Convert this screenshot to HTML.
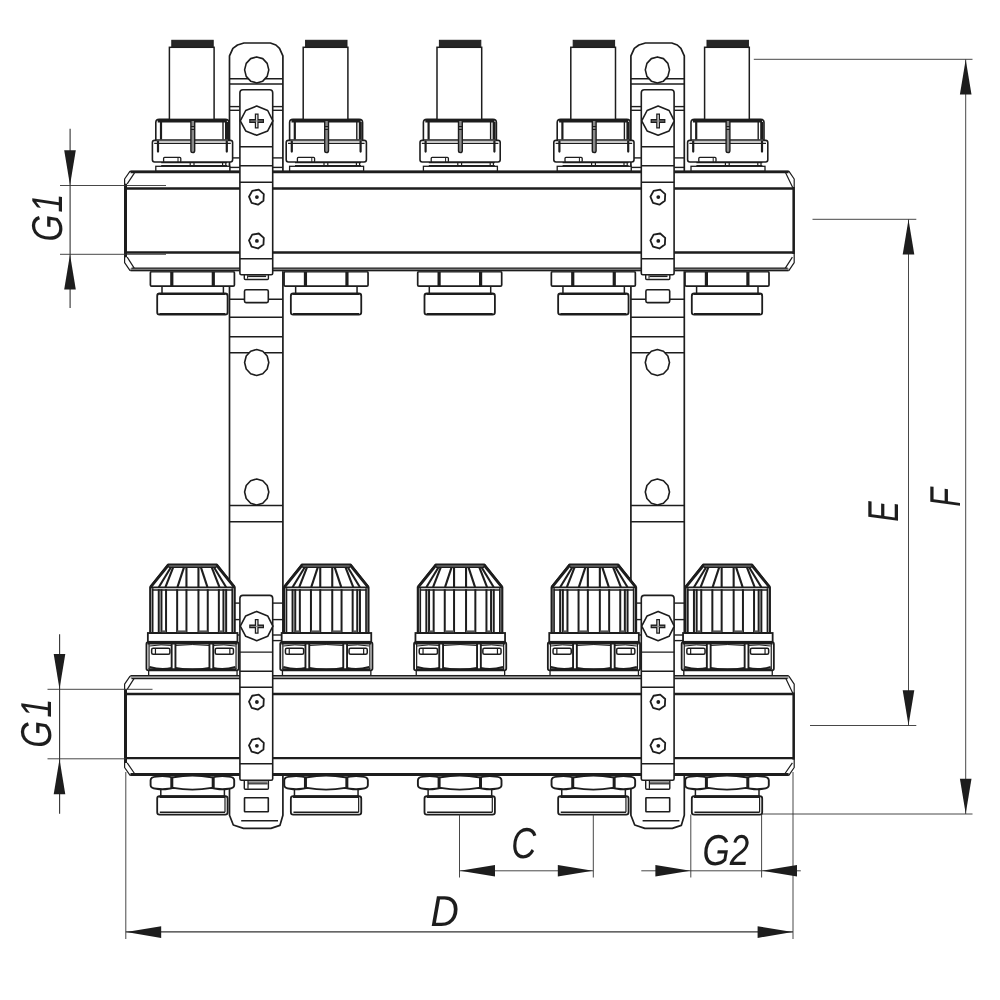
<!DOCTYPE html>
<html lang="en">
<head>
<meta charset="utf-8">
<title>Manifold dimensions</title>
<style>
html,body{margin:0;padding:0;background:#fff;}
body{width:1000px;height:1000px;overflow:hidden;}
svg{display:block;will-change:transform;filter:grayscale(1);}
.t{font-family:"Liberation Sans","DejaVu Sans",sans-serif;font-style:italic;fill:#1d1d1b;text-rendering:geometricPrecision;}
</style>
</head>
<body>
<svg width="1000" height="1000" viewBox="0 0 1000 1000">
<rect x="0" y="0" width="1000" height="1000" fill="#fff"/>
<g transform="translate(256.60,0.00)">
<path d="M-27.1,171 V55.9 L-23.700000000000003,48.4 L-19.1,45 L-12.600000000000001,43 H13.8 L19.3,45 L22.900000000000002,48.4 L26.3,55.9 V171" fill="#fff" stroke="#1d1d1b" stroke-width="1.7" stroke-linejoin="round" />
<path d="M-27.1,270 V815.2 L-23.3,825 L-13.100000000000001,828.4 H14.3 L23.3,825.4 L26.3,815.2 V270" fill="#fff" stroke="#1d1d1b" stroke-width="1.7" stroke-linejoin="round" />
<line x1="-27.10" y1="78.80" x2="26.30" y2="78.80" stroke="#1d1d1b" stroke-width="1.5" />
<line x1="-27.10" y1="83.90" x2="26.30" y2="83.90" stroke="#1d1d1b" stroke-width="1.5" />
<polygon points="0.10,56.90 6.15,58.64 10.58,63.40 12.20,69.90 10.58,76.40 6.15,81.16 0.10,82.90 -5.95,81.16 -10.38,76.40 -12.00,69.90 -10.38,63.40 -5.95,58.64" fill="#fff" stroke="#1d1d1b" stroke-width="1.6" stroke-linejoin="round"/>
<line x1="-27.10" y1="106.60" x2="-16.80" y2="106.60" stroke="#1d1d1b" stroke-width="1.4" />
<line x1="16.20" y1="106.60" x2="26.30" y2="106.60" stroke="#1d1d1b" stroke-width="1.4" />
<line x1="-27.10" y1="110.30" x2="-16.80" y2="110.30" stroke="#1d1d1b" stroke-width="1.4" />
<line x1="16.20" y1="110.30" x2="26.30" y2="110.30" stroke="#1d1d1b" stroke-width="1.4" />
<line x1="-27.10" y1="157.90" x2="-16.80" y2="157.90" stroke="#1d1d1b" stroke-width="1.4" />
<line x1="16.20" y1="157.90" x2="26.30" y2="157.90" stroke="#1d1d1b" stroke-width="1.4" />
<line x1="-27.10" y1="167.40" x2="-16.80" y2="167.40" stroke="#1d1d1b" stroke-width="1.4" />
<line x1="16.20" y1="167.40" x2="26.30" y2="167.40" stroke="#1d1d1b" stroke-width="1.4" />
<line x1="-27.10" y1="299.20" x2="26.30" y2="299.20" stroke="#1d1d1b" stroke-width="1.5" />
<line x1="-27.10" y1="317.20" x2="26.30" y2="317.20" stroke="#1d1d1b" stroke-width="1.5" />
<line x1="-27.10" y1="336.70" x2="26.30" y2="336.70" stroke="#1d1d1b" stroke-width="1.5" />
<line x1="-27.10" y1="352.80" x2="26.30" y2="352.80" stroke="#1d1d1b" stroke-width="1.5" />
<line x1="-27.10" y1="505.50" x2="26.30" y2="505.50" stroke="#1d1d1b" stroke-width="1.5" />
<line x1="-27.10" y1="521.80" x2="26.30" y2="521.80" stroke="#1d1d1b" stroke-width="1.5" />
<polygon points="0.10,349.50 6.15,351.24 10.58,356.00 12.20,362.50 10.58,369.00 6.15,373.76 0.10,375.50 -5.95,373.76 -10.38,369.00 -12.00,362.50 -10.38,356.00 -5.95,351.24" fill="#fff" stroke="#1d1d1b" stroke-width="1.6" stroke-linejoin="round"/>
<polygon points="0.10,479.00 6.15,480.74 10.58,485.50 12.20,492.00 10.58,498.50 6.15,503.26 0.10,505.00 -5.95,503.26 -10.38,498.50 -12.00,492.00 -10.38,485.50 -5.95,480.74" fill="#fff" stroke="#1d1d1b" stroke-width="1.6" stroke-linejoin="round"/>
<rect x="-12.10" y="289.80" width="23.80" height="12.80" rx="1.5" fill="#fff" stroke="#1d1d1b" stroke-width="1.6"/>
<line x1="16.20" y1="603.10" x2="26.30" y2="603.10" stroke="#1d1d1b" stroke-width="1.4" />
<line x1="16.20" y1="619.60" x2="26.30" y2="619.60" stroke="#1d1d1b" stroke-width="1.4" />
<line x1="16.20" y1="635.00" x2="26.30" y2="635.00" stroke="#1d1d1b" stroke-width="1.4" />
<line x1="16.20" y1="640.60" x2="26.30" y2="640.60" stroke="#1d1d1b" stroke-width="1.4" />
<line x1="-27.10" y1="603.10" x2="-16.80" y2="603.10" stroke="#1d1d1b" stroke-width="1.4" />
<line x1="-27.10" y1="619.60" x2="-16.80" y2="619.60" stroke="#1d1d1b" stroke-width="1.4" />
<line x1="-27.10" y1="635.00" x2="-16.80" y2="635.00" stroke="#1d1d1b" stroke-width="1.4" />
<line x1="-15.40" y1="820.80" x2="21.40" y2="820.80" stroke="#1d1d1b" stroke-width="1.4" />
<rect x="-12.10" y="797.80" width="23.80" height="14.00" rx="0.5" fill="#fff" stroke="#1d1d1b" stroke-width="1.6"/>
</g>
<g transform="translate(658.00,0.00)">
<path d="M-27.1,171 V55.9 L-23.700000000000003,48.4 L-19.1,45 L-12.600000000000001,43 H13.8 L19.3,45 L22.900000000000002,48.4 L26.3,55.9 V171" fill="#fff" stroke="#1d1d1b" stroke-width="1.7" stroke-linejoin="round" />
<path d="M-27.1,270 V815.2 L-23.3,825 L-13.100000000000001,828.4 H14.3 L23.3,825.4 L26.3,815.2 V270" fill="#fff" stroke="#1d1d1b" stroke-width="1.7" stroke-linejoin="round" />
<line x1="-27.10" y1="78.80" x2="26.30" y2="78.80" stroke="#1d1d1b" stroke-width="1.5" />
<line x1="-27.10" y1="83.90" x2="26.30" y2="83.90" stroke="#1d1d1b" stroke-width="1.5" />
<polygon points="-0.60,56.90 5.45,58.64 9.88,63.40 11.50,69.90 9.88,76.40 5.45,81.16 -0.60,82.90 -6.65,81.16 -11.08,76.40 -12.70,69.90 -11.08,63.40 -6.65,58.64" fill="#fff" stroke="#1d1d1b" stroke-width="1.6" stroke-linejoin="round"/>
<line x1="-27.10" y1="106.60" x2="-16.80" y2="106.60" stroke="#1d1d1b" stroke-width="1.4" />
<line x1="16.20" y1="106.60" x2="26.30" y2="106.60" stroke="#1d1d1b" stroke-width="1.4" />
<line x1="-27.10" y1="110.30" x2="-16.80" y2="110.30" stroke="#1d1d1b" stroke-width="1.4" />
<line x1="16.20" y1="110.30" x2="26.30" y2="110.30" stroke="#1d1d1b" stroke-width="1.4" />
<line x1="-27.10" y1="157.90" x2="-16.80" y2="157.90" stroke="#1d1d1b" stroke-width="1.4" />
<line x1="16.20" y1="157.90" x2="26.30" y2="157.90" stroke="#1d1d1b" stroke-width="1.4" />
<line x1="-27.10" y1="167.40" x2="-16.80" y2="167.40" stroke="#1d1d1b" stroke-width="1.4" />
<line x1="16.20" y1="167.40" x2="26.30" y2="167.40" stroke="#1d1d1b" stroke-width="1.4" />
<line x1="-27.10" y1="299.20" x2="26.30" y2="299.20" stroke="#1d1d1b" stroke-width="1.5" />
<line x1="-27.10" y1="317.20" x2="26.30" y2="317.20" stroke="#1d1d1b" stroke-width="1.5" />
<line x1="-27.10" y1="336.70" x2="26.30" y2="336.70" stroke="#1d1d1b" stroke-width="1.5" />
<line x1="-27.10" y1="352.80" x2="26.30" y2="352.80" stroke="#1d1d1b" stroke-width="1.5" />
<line x1="-27.10" y1="505.50" x2="26.30" y2="505.50" stroke="#1d1d1b" stroke-width="1.5" />
<line x1="-27.10" y1="521.80" x2="26.30" y2="521.80" stroke="#1d1d1b" stroke-width="1.5" />
<polygon points="-0.60,349.50 5.45,351.24 9.88,356.00 11.50,362.50 9.88,369.00 5.45,373.76 -0.60,375.50 -6.65,373.76 -11.08,369.00 -12.70,362.50 -11.08,356.00 -6.65,351.24" fill="#fff" stroke="#1d1d1b" stroke-width="1.6" stroke-linejoin="round"/>
<polygon points="-0.60,479.00 5.45,480.74 9.88,485.50 11.50,492.00 9.88,498.50 5.45,503.26 -0.60,505.00 -6.65,503.26 -11.08,498.50 -12.70,492.00 -11.08,485.50 -6.65,480.74" fill="#fff" stroke="#1d1d1b" stroke-width="1.6" stroke-linejoin="round"/>
<rect x="-12.10" y="289.80" width="23.80" height="12.80" rx="1.5" fill="#fff" stroke="#1d1d1b" stroke-width="1.6"/>
<line x1="16.20" y1="603.10" x2="26.30" y2="603.10" stroke="#1d1d1b" stroke-width="1.4" />
<line x1="16.20" y1="619.60" x2="26.30" y2="619.60" stroke="#1d1d1b" stroke-width="1.4" />
<line x1="16.20" y1="635.00" x2="26.30" y2="635.00" stroke="#1d1d1b" stroke-width="1.4" />
<line x1="16.20" y1="640.60" x2="26.30" y2="640.60" stroke="#1d1d1b" stroke-width="1.4" />
<line x1="-27.10" y1="603.10" x2="-16.80" y2="603.10" stroke="#1d1d1b" stroke-width="1.4" />
<line x1="-27.10" y1="619.60" x2="-16.80" y2="619.60" stroke="#1d1d1b" stroke-width="1.4" />
<line x1="-27.10" y1="635.00" x2="-16.80" y2="635.00" stroke="#1d1d1b" stroke-width="1.4" />
<line x1="-15.40" y1="820.80" x2="21.40" y2="820.80" stroke="#1d1d1b" stroke-width="1.4" />
<rect x="-12.10" y="797.80" width="23.80" height="14.00" rx="0.5" fill="#fff" stroke="#1d1d1b" stroke-width="1.6"/>
</g>
<g transform="translate(192.20,0.00)">
<rect x="-36.40" y="166.30" width="74.00" height="5.10" rx="0" fill="#fff" stroke="#1d1d1b" stroke-width="1.3"/>
<line x1="-31.00" y1="162.60" x2="35.00" y2="162.60" stroke="#1d1d1b" stroke-width="1.2" />
<line x1="-31.00" y1="165.70" x2="35.00" y2="165.70" stroke="#1d1d1b" stroke-width="1.2" />
<line x1="-2.00" y1="162.00" x2="-2.00" y2="166.00" stroke="#1d1d1b" stroke-width="1.2" />
<line x1="1.80" y1="162.00" x2="1.80" y2="166.00" stroke="#1d1d1b" stroke-width="1.2" />
<line x1="30.40" y1="162.00" x2="30.40" y2="166.00" stroke="#1d1d1b" stroke-width="1.2" />
<line x1="33.60" y1="162.00" x2="33.60" y2="166.00" stroke="#1d1d1b" stroke-width="1.2" />
<rect x="-39.80" y="140.40" width="80.20" height="21.60" rx="2.2" fill="#fff" stroke="#1d1d1b" stroke-width="1.6"/>
<rect x="-28.60" y="157.40" width="17.20" height="4.60" rx="1" fill="#fff" stroke="#1d1d1b" stroke-width="1.3"/>
<line x1="-14.20" y1="158.00" x2="-14.20" y2="162.00" stroke="#1d1d1b" stroke-width="1.0" />
<path d="M-36.4,141 V122.5 Q-36.4,119.4 -33,119.4 H33.2 Q36.6,119.4 36.6,122.5 V141" fill="#fff" stroke="#1d1d1b" stroke-width="1.6" stroke-linejoin="round" />
<line x1="-34.50" y1="120.90" x2="34.70" y2="120.90" stroke="#1d1d1b" stroke-width="3.0" />
<line x1="-36.40" y1="139.90" x2="36.60" y2="139.90" stroke="#1d1d1b" stroke-width="1.5" />
<line x1="-38.00" y1="143.40" x2="38.60" y2="143.40" stroke="#1d1d1b" stroke-width="1.4" />
<line x1="-31.20" y1="122.00" x2="-31.20" y2="139.50" stroke="#1d1d1b" stroke-width="2.2" />
<line x1="30.80" y1="122.00" x2="30.80" y2="139.50" stroke="#1d1d1b" stroke-width="1.4" />
<line x1="34.30" y1="122.00" x2="34.30" y2="139.50" stroke="#1d1d1b" stroke-width="3.0" />
<path d="M-1.3,121 V150.8 Q-1.3,152.6 0.6,152.6 Q2.5,152.6 2.5,150.8 V121" fill="#8a8a8a" stroke="#1d1d1b" stroke-width="1.4" stroke-linejoin="round" />
<line x1="-1.30" y1="126.50" x2="2.50" y2="126.50" stroke="#1d1d1b" stroke-width="1.0" />
<line x1="-1.30" y1="129.50" x2="2.50" y2="129.50" stroke="#1d1d1b" stroke-width="1.0" />
<line x1="-34.2" y1="141.5" x2="-34.2" y2="151.6" stroke="#1d1d1b" stroke-width="2.2" stroke-linecap="round"/>
<line x1="34.6" y1="141.5" x2="34.6" y2="151.6" stroke="#1d1d1b" stroke-width="2.2" stroke-linecap="round"/>
<rect x="-22.80" y="47.30" width="44.70" height="72.10" rx="0" fill="#fff" stroke="#1d1d1b" stroke-width="1.5"/>
<rect x="-20.40" y="40.30" width="41.40" height="7.00" rx="0" fill="#262626" stroke="#1d1d1b" stroke-width="1.0"/>
</g>
<g transform="translate(326.00,0.00)">
<rect x="-36.40" y="166.30" width="74.00" height="5.10" rx="0" fill="#fff" stroke="#1d1d1b" stroke-width="1.3"/>
<line x1="-31.00" y1="162.60" x2="35.00" y2="162.60" stroke="#1d1d1b" stroke-width="1.2" />
<line x1="-31.00" y1="165.70" x2="35.00" y2="165.70" stroke="#1d1d1b" stroke-width="1.2" />
<line x1="-2.00" y1="162.00" x2="-2.00" y2="166.00" stroke="#1d1d1b" stroke-width="1.2" />
<line x1="1.80" y1="162.00" x2="1.80" y2="166.00" stroke="#1d1d1b" stroke-width="1.2" />
<line x1="30.40" y1="162.00" x2="30.40" y2="166.00" stroke="#1d1d1b" stroke-width="1.2" />
<line x1="33.60" y1="162.00" x2="33.60" y2="166.00" stroke="#1d1d1b" stroke-width="1.2" />
<rect x="-39.80" y="140.40" width="80.20" height="21.60" rx="2.2" fill="#fff" stroke="#1d1d1b" stroke-width="1.6"/>
<rect x="-28.60" y="157.40" width="17.20" height="4.60" rx="1" fill="#fff" stroke="#1d1d1b" stroke-width="1.3"/>
<line x1="-14.20" y1="158.00" x2="-14.20" y2="162.00" stroke="#1d1d1b" stroke-width="1.0" />
<path d="M-36.4,141 V122.5 Q-36.4,119.4 -33,119.4 H33.2 Q36.6,119.4 36.6,122.5 V141" fill="#fff" stroke="#1d1d1b" stroke-width="1.6" stroke-linejoin="round" />
<line x1="-34.50" y1="120.90" x2="34.70" y2="120.90" stroke="#1d1d1b" stroke-width="3.0" />
<line x1="-36.40" y1="139.90" x2="36.60" y2="139.90" stroke="#1d1d1b" stroke-width="1.5" />
<line x1="-38.00" y1="143.40" x2="38.60" y2="143.40" stroke="#1d1d1b" stroke-width="1.4" />
<line x1="-31.20" y1="122.00" x2="-31.20" y2="139.50" stroke="#1d1d1b" stroke-width="2.2" />
<line x1="30.80" y1="122.00" x2="30.80" y2="139.50" stroke="#1d1d1b" stroke-width="1.4" />
<line x1="34.30" y1="122.00" x2="34.30" y2="139.50" stroke="#1d1d1b" stroke-width="3.0" />
<path d="M-1.3,121 V150.8 Q-1.3,152.6 0.6,152.6 Q2.5,152.6 2.5,150.8 V121" fill="#8a8a8a" stroke="#1d1d1b" stroke-width="1.4" stroke-linejoin="round" />
<line x1="-1.30" y1="126.50" x2="2.50" y2="126.50" stroke="#1d1d1b" stroke-width="1.0" />
<line x1="-1.30" y1="129.50" x2="2.50" y2="129.50" stroke="#1d1d1b" stroke-width="1.0" />
<line x1="-34.2" y1="141.5" x2="-34.2" y2="151.6" stroke="#1d1d1b" stroke-width="2.2" stroke-linecap="round"/>
<line x1="34.6" y1="141.5" x2="34.6" y2="151.6" stroke="#1d1d1b" stroke-width="2.2" stroke-linecap="round"/>
<rect x="-22.80" y="47.30" width="44.70" height="72.10" rx="0" fill="#fff" stroke="#1d1d1b" stroke-width="1.5"/>
<rect x="-20.40" y="40.30" width="41.40" height="7.00" rx="0" fill="#262626" stroke="#1d1d1b" stroke-width="1.0"/>
</g>
<g transform="translate(459.80,0.00)">
<rect x="-36.40" y="166.30" width="74.00" height="5.10" rx="0" fill="#fff" stroke="#1d1d1b" stroke-width="1.3"/>
<line x1="-31.00" y1="162.60" x2="35.00" y2="162.60" stroke="#1d1d1b" stroke-width="1.2" />
<line x1="-31.00" y1="165.70" x2="35.00" y2="165.70" stroke="#1d1d1b" stroke-width="1.2" />
<line x1="-2.00" y1="162.00" x2="-2.00" y2="166.00" stroke="#1d1d1b" stroke-width="1.2" />
<line x1="1.80" y1="162.00" x2="1.80" y2="166.00" stroke="#1d1d1b" stroke-width="1.2" />
<line x1="30.40" y1="162.00" x2="30.40" y2="166.00" stroke="#1d1d1b" stroke-width="1.2" />
<line x1="33.60" y1="162.00" x2="33.60" y2="166.00" stroke="#1d1d1b" stroke-width="1.2" />
<rect x="-39.80" y="140.40" width="80.20" height="21.60" rx="2.2" fill="#fff" stroke="#1d1d1b" stroke-width="1.6"/>
<rect x="-28.60" y="157.40" width="17.20" height="4.60" rx="1" fill="#fff" stroke="#1d1d1b" stroke-width="1.3"/>
<line x1="-14.20" y1="158.00" x2="-14.20" y2="162.00" stroke="#1d1d1b" stroke-width="1.0" />
<path d="M-36.4,141 V122.5 Q-36.4,119.4 -33,119.4 H33.2 Q36.6,119.4 36.6,122.5 V141" fill="#fff" stroke="#1d1d1b" stroke-width="1.6" stroke-linejoin="round" />
<line x1="-34.50" y1="120.90" x2="34.70" y2="120.90" stroke="#1d1d1b" stroke-width="3.0" />
<line x1="-36.40" y1="139.90" x2="36.60" y2="139.90" stroke="#1d1d1b" stroke-width="1.5" />
<line x1="-38.00" y1="143.40" x2="38.60" y2="143.40" stroke="#1d1d1b" stroke-width="1.4" />
<line x1="-31.20" y1="122.00" x2="-31.20" y2="139.50" stroke="#1d1d1b" stroke-width="2.2" />
<line x1="30.80" y1="122.00" x2="30.80" y2="139.50" stroke="#1d1d1b" stroke-width="1.4" />
<line x1="34.30" y1="122.00" x2="34.30" y2="139.50" stroke="#1d1d1b" stroke-width="3.0" />
<path d="M-1.3,121 V150.8 Q-1.3,152.6 0.6,152.6 Q2.5,152.6 2.5,150.8 V121" fill="#8a8a8a" stroke="#1d1d1b" stroke-width="1.4" stroke-linejoin="round" />
<line x1="-1.30" y1="126.50" x2="2.50" y2="126.50" stroke="#1d1d1b" stroke-width="1.0" />
<line x1="-1.30" y1="129.50" x2="2.50" y2="129.50" stroke="#1d1d1b" stroke-width="1.0" />
<line x1="-34.2" y1="141.5" x2="-34.2" y2="151.6" stroke="#1d1d1b" stroke-width="2.2" stroke-linecap="round"/>
<line x1="34.6" y1="141.5" x2="34.6" y2="151.6" stroke="#1d1d1b" stroke-width="2.2" stroke-linecap="round"/>
<rect x="-22.80" y="47.30" width="44.70" height="72.10" rx="0" fill="#fff" stroke="#1d1d1b" stroke-width="1.5"/>
<rect x="-20.40" y="40.30" width="41.40" height="7.00" rx="0" fill="#262626" stroke="#1d1d1b" stroke-width="1.0"/>
</g>
<g transform="translate(593.60,0.00)">
<rect x="-36.40" y="166.30" width="74.00" height="5.10" rx="0" fill="#fff" stroke="#1d1d1b" stroke-width="1.3"/>
<line x1="-31.00" y1="162.60" x2="35.00" y2="162.60" stroke="#1d1d1b" stroke-width="1.2" />
<line x1="-31.00" y1="165.70" x2="35.00" y2="165.70" stroke="#1d1d1b" stroke-width="1.2" />
<line x1="-2.00" y1="162.00" x2="-2.00" y2="166.00" stroke="#1d1d1b" stroke-width="1.2" />
<line x1="1.80" y1="162.00" x2="1.80" y2="166.00" stroke="#1d1d1b" stroke-width="1.2" />
<line x1="30.40" y1="162.00" x2="30.40" y2="166.00" stroke="#1d1d1b" stroke-width="1.2" />
<line x1="33.60" y1="162.00" x2="33.60" y2="166.00" stroke="#1d1d1b" stroke-width="1.2" />
<rect x="-39.80" y="140.40" width="80.20" height="21.60" rx="2.2" fill="#fff" stroke="#1d1d1b" stroke-width="1.6"/>
<rect x="-28.60" y="157.40" width="17.20" height="4.60" rx="1" fill="#fff" stroke="#1d1d1b" stroke-width="1.3"/>
<line x1="-14.20" y1="158.00" x2="-14.20" y2="162.00" stroke="#1d1d1b" stroke-width="1.0" />
<path d="M-36.4,141 V122.5 Q-36.4,119.4 -33,119.4 H33.2 Q36.6,119.4 36.6,122.5 V141" fill="#fff" stroke="#1d1d1b" stroke-width="1.6" stroke-linejoin="round" />
<line x1="-34.50" y1="120.90" x2="34.70" y2="120.90" stroke="#1d1d1b" stroke-width="3.0" />
<line x1="-36.40" y1="139.90" x2="36.60" y2="139.90" stroke="#1d1d1b" stroke-width="1.5" />
<line x1="-38.00" y1="143.40" x2="38.60" y2="143.40" stroke="#1d1d1b" stroke-width="1.4" />
<line x1="-31.20" y1="122.00" x2="-31.20" y2="139.50" stroke="#1d1d1b" stroke-width="2.2" />
<line x1="30.80" y1="122.00" x2="30.80" y2="139.50" stroke="#1d1d1b" stroke-width="1.4" />
<line x1="34.30" y1="122.00" x2="34.30" y2="139.50" stroke="#1d1d1b" stroke-width="3.0" />
<path d="M-1.3,121 V150.8 Q-1.3,152.6 0.6,152.6 Q2.5,152.6 2.5,150.8 V121" fill="#8a8a8a" stroke="#1d1d1b" stroke-width="1.4" stroke-linejoin="round" />
<line x1="-1.30" y1="126.50" x2="2.50" y2="126.50" stroke="#1d1d1b" stroke-width="1.0" />
<line x1="-1.30" y1="129.50" x2="2.50" y2="129.50" stroke="#1d1d1b" stroke-width="1.0" />
<line x1="-34.2" y1="141.5" x2="-34.2" y2="151.6" stroke="#1d1d1b" stroke-width="2.2" stroke-linecap="round"/>
<line x1="34.6" y1="141.5" x2="34.6" y2="151.6" stroke="#1d1d1b" stroke-width="2.2" stroke-linecap="round"/>
<rect x="-22.80" y="47.30" width="44.70" height="72.10" rx="0" fill="#fff" stroke="#1d1d1b" stroke-width="1.5"/>
<rect x="-20.40" y="40.30" width="41.40" height="7.00" rx="0" fill="#262626" stroke="#1d1d1b" stroke-width="1.0"/>
</g>
<g transform="translate(727.40,0.00)">
<rect x="-36.40" y="166.30" width="74.00" height="5.10" rx="0" fill="#fff" stroke="#1d1d1b" stroke-width="1.3"/>
<line x1="-31.00" y1="162.60" x2="35.00" y2="162.60" stroke="#1d1d1b" stroke-width="1.2" />
<line x1="-31.00" y1="165.70" x2="35.00" y2="165.70" stroke="#1d1d1b" stroke-width="1.2" />
<line x1="-2.00" y1="162.00" x2="-2.00" y2="166.00" stroke="#1d1d1b" stroke-width="1.2" />
<line x1="1.80" y1="162.00" x2="1.80" y2="166.00" stroke="#1d1d1b" stroke-width="1.2" />
<line x1="30.40" y1="162.00" x2="30.40" y2="166.00" stroke="#1d1d1b" stroke-width="1.2" />
<line x1="33.60" y1="162.00" x2="33.60" y2="166.00" stroke="#1d1d1b" stroke-width="1.2" />
<rect x="-39.80" y="140.40" width="80.20" height="21.60" rx="2.2" fill="#fff" stroke="#1d1d1b" stroke-width="1.6"/>
<rect x="-28.60" y="157.40" width="17.20" height="4.60" rx="1" fill="#fff" stroke="#1d1d1b" stroke-width="1.3"/>
<line x1="-14.20" y1="158.00" x2="-14.20" y2="162.00" stroke="#1d1d1b" stroke-width="1.0" />
<path d="M-36.4,141 V122.5 Q-36.4,119.4 -33,119.4 H33.2 Q36.6,119.4 36.6,122.5 V141" fill="#fff" stroke="#1d1d1b" stroke-width="1.6" stroke-linejoin="round" />
<line x1="-34.50" y1="120.90" x2="34.70" y2="120.90" stroke="#1d1d1b" stroke-width="3.0" />
<line x1="-36.40" y1="139.90" x2="36.60" y2="139.90" stroke="#1d1d1b" stroke-width="1.5" />
<line x1="-38.00" y1="143.40" x2="38.60" y2="143.40" stroke="#1d1d1b" stroke-width="1.4" />
<line x1="-31.20" y1="122.00" x2="-31.20" y2="139.50" stroke="#1d1d1b" stroke-width="2.2" />
<line x1="30.80" y1="122.00" x2="30.80" y2="139.50" stroke="#1d1d1b" stroke-width="1.4" />
<line x1="34.30" y1="122.00" x2="34.30" y2="139.50" stroke="#1d1d1b" stroke-width="3.0" />
<path d="M-1.3,121 V150.8 Q-1.3,152.6 0.6,152.6 Q2.5,152.6 2.5,150.8 V121" fill="#8a8a8a" stroke="#1d1d1b" stroke-width="1.4" stroke-linejoin="round" />
<line x1="-1.30" y1="126.50" x2="2.50" y2="126.50" stroke="#1d1d1b" stroke-width="1.0" />
<line x1="-1.30" y1="129.50" x2="2.50" y2="129.50" stroke="#1d1d1b" stroke-width="1.0" />
<line x1="-34.2" y1="141.5" x2="-34.2" y2="151.6" stroke="#1d1d1b" stroke-width="2.2" stroke-linecap="round"/>
<line x1="34.6" y1="141.5" x2="34.6" y2="151.6" stroke="#1d1d1b" stroke-width="2.2" stroke-linecap="round"/>
<rect x="-22.80" y="47.30" width="44.70" height="72.10" rx="0" fill="#fff" stroke="#1d1d1b" stroke-width="1.5"/>
<rect x="-20.40" y="40.30" width="41.40" height="7.00" rx="0" fill="#262626" stroke="#1d1d1b" stroke-width="1.0"/>
</g>
<g transform="translate(192.45,0.00)">
<rect x="-43.80" y="670.30" width="88.40" height="5.30" rx="0" fill="#fff" stroke="#1d1d1b" stroke-width="1.3"/>
<path d="M-46,644 Q-46,642.2 -44,642.2 H44.2 Q46.2,642.2 46.2,644 V668.5 Q46.2,670.4 44.2,670.4 H-44 Q-46,670.4 -46,668.5 Z" fill="#fff" stroke="#1d1d1b" stroke-width="1.8" stroke-linejoin="round" />
<line x1="-45.00" y1="643.40" x2="45.00" y2="643.40" stroke="#1d1d1b" stroke-width="2.2" />
<line x1="-20.80" y1="643.00" x2="-20.80" y2="670.00" stroke="#1d1d1b" stroke-width="1.9" />
<line x1="-17.00" y1="643.00" x2="-17.00" y2="670.00" stroke="#1d1d1b" stroke-width="1.9" />
<line x1="17.00" y1="643.00" x2="17.00" y2="670.00" stroke="#1d1d1b" stroke-width="1.9" />
<line x1="20.80" y1="643.00" x2="20.80" y2="670.00" stroke="#1d1d1b" stroke-width="1.9" />
<line x1="-43.40" y1="644.00" x2="-43.40" y2="669.00" stroke="#1d1d1b" stroke-width="1.2" />
<line x1="43.60" y1="644.00" x2="43.60" y2="669.00" stroke="#1d1d1b" stroke-width="1.2" />
<path d="M-43,666.8 Q-31,670.6 -20.6,667.8 M-17,667.8 Q0,671.4 17,667.8 M20.6,667.8 Q31,670.6 43,666.8" fill="none" stroke="#1d1d1b" stroke-width="1.8" stroke-linejoin="round" />
<path d="M-43,646 Q-31,644 -20.6,645.5 M-17,645.5 Q0,643.6 17,645.5 M20.6,645.5 Q31,644 43,646" fill="none" stroke="#1d1d1b" stroke-width="1.0" stroke-linejoin="round" />
<line x1="-44.00" y1="669.20" x2="44.00" y2="669.20" stroke="#1d1d1b" stroke-width="2.0" />
<rect x="-40.80" y="648.20" width="18.20" height="6.00" rx="1.5" fill="#fff" stroke="#1d1d1b" stroke-width="1.5"/>
<rect x="22.80" y="648.20" width="18.20" height="6.00" rx="1.5" fill="#fff" stroke="#1d1d1b" stroke-width="1.5"/>
<line x1="-37.00" y1="648.50" x2="-37.00" y2="654.00" stroke="#1d1d1b" stroke-width="1.2" />
<line x1="37.40" y1="648.50" x2="37.40" y2="654.00" stroke="#1d1d1b" stroke-width="1.2" />
<rect x="-44.60" y="633.00" width="89.60" height="8.80" rx="0" fill="#fff" stroke="#1d1d1b" stroke-width="1.8"/>
<path d="M-42.2,633 V587.2 L-24.4,564.6 H24.4 L42.2,587.2 V633 Z" fill="#fff" stroke="#1d1d1b" stroke-width="2.2" stroke-linejoin="round" />
<line x1="-24.00" y1="567.20" x2="24.00" y2="567.20" stroke="#1d1d1b" stroke-width="1.7" />
<line x1="-42.00" y1="587.40" x2="42.00" y2="587.40" stroke="#1d1d1b" stroke-width="1.9" />
<line x1="-40.00" y1="590.00" x2="40.00" y2="590.00" stroke="#1d1d1b" stroke-width="1.7" />
<line x1="-33.70" y1="589.20" x2="-33.70" y2="632.00" stroke="#1d1d1b" stroke-width="2.0" />
<line x1="-31.00" y1="589.20" x2="-31.00" y2="632.00" stroke="#1d1d1b" stroke-width="2.0" />
<line x1="-26.40" y1="589.20" x2="-26.40" y2="632.00" stroke="#1d1d1b" stroke-width="2.0" />
<line x1="-15.30" y1="589.20" x2="-15.30" y2="632.00" stroke="#1d1d1b" stroke-width="2.0" />
<line x1="-6.00" y1="589.20" x2="-6.00" y2="632.00" stroke="#1d1d1b" stroke-width="2.0" />
<line x1="6.00" y1="589.20" x2="6.00" y2="632.00" stroke="#1d1d1b" stroke-width="2.0" />
<line x1="15.30" y1="589.20" x2="15.30" y2="632.00" stroke="#1d1d1b" stroke-width="2.0" />
<line x1="26.40" y1="589.20" x2="26.40" y2="632.00" stroke="#1d1d1b" stroke-width="2.0" />
<line x1="31.00" y1="589.20" x2="31.00" y2="632.00" stroke="#1d1d1b" stroke-width="2.0" />
<line x1="33.70" y1="589.20" x2="33.70" y2="632.00" stroke="#1d1d1b" stroke-width="2.0" />
<line x1="-39.80" y1="588.20" x2="-39.80" y2="632.00" stroke="#1d1d1b" stroke-width="1.7" />
<line x1="39.80" y1="588.20" x2="39.80" y2="632.00" stroke="#1d1d1b" stroke-width="1.7" />
<line x1="-31.00" y1="631.40" x2="-26.40" y2="631.40" stroke="#555" stroke-width="2.0" />
<line x1="-15.30" y1="631.40" x2="-6.00" y2="631.40" stroke="#555" stroke-width="2.0" />
<line x1="6.00" y1="631.40" x2="15.30" y2="631.40" stroke="#555" stroke-width="2.0" />
<line x1="26.40" y1="631.40" x2="31.00" y2="631.40" stroke="#555" stroke-width="2.0" />
<line x1="-21.50" y1="567.20" x2="-33.70" y2="587.20" stroke="#1d1d1b" stroke-width="2.1" />
<line x1="-19.20" y1="567.20" x2="-27.00" y2="587.20" stroke="#1d1d1b" stroke-width="2.1" />
<line x1="-8.40" y1="567.20" x2="-15.00" y2="587.20" stroke="#1d1d1b" stroke-width="2.1" />
<line x1="-6.00" y1="567.20" x2="-6.00" y2="587.20" stroke="#1d1d1b" stroke-width="2.1" />
<line x1="6.00" y1="567.20" x2="6.00" y2="587.20" stroke="#1d1d1b" stroke-width="2.1" />
<line x1="8.40" y1="567.20" x2="15.00" y2="587.20" stroke="#1d1d1b" stroke-width="2.1" />
<line x1="19.20" y1="567.20" x2="27.00" y2="587.20" stroke="#1d1d1b" stroke-width="2.1" />
<line x1="21.50" y1="567.20" x2="33.70" y2="587.20" stroke="#1d1d1b" stroke-width="2.1" />
<line x1="-24.00" y1="565.20" x2="-41.70" y2="586.90" stroke="#1d1d1b" stroke-width="2.8" />
<line x1="24.00" y1="565.20" x2="41.70" y2="586.90" stroke="#1d1d1b" stroke-width="2.8" />
</g>
<g transform="translate(326.25,0.00)">
<rect x="-43.80" y="670.30" width="88.40" height="5.30" rx="0" fill="#fff" stroke="#1d1d1b" stroke-width="1.3"/>
<path d="M-46,644 Q-46,642.2 -44,642.2 H44.2 Q46.2,642.2 46.2,644 V668.5 Q46.2,670.4 44.2,670.4 H-44 Q-46,670.4 -46,668.5 Z" fill="#fff" stroke="#1d1d1b" stroke-width="1.8" stroke-linejoin="round" />
<line x1="-45.00" y1="643.40" x2="45.00" y2="643.40" stroke="#1d1d1b" stroke-width="2.2" />
<line x1="-20.80" y1="643.00" x2="-20.80" y2="670.00" stroke="#1d1d1b" stroke-width="1.9" />
<line x1="-17.00" y1="643.00" x2="-17.00" y2="670.00" stroke="#1d1d1b" stroke-width="1.9" />
<line x1="17.00" y1="643.00" x2="17.00" y2="670.00" stroke="#1d1d1b" stroke-width="1.9" />
<line x1="20.80" y1="643.00" x2="20.80" y2="670.00" stroke="#1d1d1b" stroke-width="1.9" />
<line x1="-43.40" y1="644.00" x2="-43.40" y2="669.00" stroke="#1d1d1b" stroke-width="1.2" />
<line x1="43.60" y1="644.00" x2="43.60" y2="669.00" stroke="#1d1d1b" stroke-width="1.2" />
<path d="M-43,666.8 Q-31,670.6 -20.6,667.8 M-17,667.8 Q0,671.4 17,667.8 M20.6,667.8 Q31,670.6 43,666.8" fill="none" stroke="#1d1d1b" stroke-width="1.8" stroke-linejoin="round" />
<path d="M-43,646 Q-31,644 -20.6,645.5 M-17,645.5 Q0,643.6 17,645.5 M20.6,645.5 Q31,644 43,646" fill="none" stroke="#1d1d1b" stroke-width="1.0" stroke-linejoin="round" />
<line x1="-44.00" y1="669.20" x2="44.00" y2="669.20" stroke="#1d1d1b" stroke-width="2.0" />
<rect x="-40.80" y="648.20" width="18.20" height="6.00" rx="1.5" fill="#fff" stroke="#1d1d1b" stroke-width="1.5"/>
<rect x="22.80" y="648.20" width="18.20" height="6.00" rx="1.5" fill="#fff" stroke="#1d1d1b" stroke-width="1.5"/>
<line x1="-37.00" y1="648.50" x2="-37.00" y2="654.00" stroke="#1d1d1b" stroke-width="1.2" />
<line x1="37.40" y1="648.50" x2="37.40" y2="654.00" stroke="#1d1d1b" stroke-width="1.2" />
<rect x="-44.60" y="633.00" width="89.60" height="8.80" rx="0" fill="#fff" stroke="#1d1d1b" stroke-width="1.8"/>
<path d="M-42.2,633 V587.2 L-24.4,564.6 H24.4 L42.2,587.2 V633 Z" fill="#fff" stroke="#1d1d1b" stroke-width="2.2" stroke-linejoin="round" />
<line x1="-24.00" y1="567.20" x2="24.00" y2="567.20" stroke="#1d1d1b" stroke-width="1.7" />
<line x1="-42.00" y1="587.40" x2="42.00" y2="587.40" stroke="#1d1d1b" stroke-width="1.9" />
<line x1="-40.00" y1="590.00" x2="40.00" y2="590.00" stroke="#1d1d1b" stroke-width="1.7" />
<line x1="-33.70" y1="589.20" x2="-33.70" y2="632.00" stroke="#1d1d1b" stroke-width="2.0" />
<line x1="-31.00" y1="589.20" x2="-31.00" y2="632.00" stroke="#1d1d1b" stroke-width="2.0" />
<line x1="-26.40" y1="589.20" x2="-26.40" y2="632.00" stroke="#1d1d1b" stroke-width="2.0" />
<line x1="-15.30" y1="589.20" x2="-15.30" y2="632.00" stroke="#1d1d1b" stroke-width="2.0" />
<line x1="-6.00" y1="589.20" x2="-6.00" y2="632.00" stroke="#1d1d1b" stroke-width="2.0" />
<line x1="6.00" y1="589.20" x2="6.00" y2="632.00" stroke="#1d1d1b" stroke-width="2.0" />
<line x1="15.30" y1="589.20" x2="15.30" y2="632.00" stroke="#1d1d1b" stroke-width="2.0" />
<line x1="26.40" y1="589.20" x2="26.40" y2="632.00" stroke="#1d1d1b" stroke-width="2.0" />
<line x1="31.00" y1="589.20" x2="31.00" y2="632.00" stroke="#1d1d1b" stroke-width="2.0" />
<line x1="33.70" y1="589.20" x2="33.70" y2="632.00" stroke="#1d1d1b" stroke-width="2.0" />
<line x1="-39.80" y1="588.20" x2="-39.80" y2="632.00" stroke="#1d1d1b" stroke-width="1.7" />
<line x1="39.80" y1="588.20" x2="39.80" y2="632.00" stroke="#1d1d1b" stroke-width="1.7" />
<line x1="-31.00" y1="631.40" x2="-26.40" y2="631.40" stroke="#555" stroke-width="2.0" />
<line x1="-15.30" y1="631.40" x2="-6.00" y2="631.40" stroke="#555" stroke-width="2.0" />
<line x1="6.00" y1="631.40" x2="15.30" y2="631.40" stroke="#555" stroke-width="2.0" />
<line x1="26.40" y1="631.40" x2="31.00" y2="631.40" stroke="#555" stroke-width="2.0" />
<line x1="-21.50" y1="567.20" x2="-33.70" y2="587.20" stroke="#1d1d1b" stroke-width="2.1" />
<line x1="-19.20" y1="567.20" x2="-27.00" y2="587.20" stroke="#1d1d1b" stroke-width="2.1" />
<line x1="-8.40" y1="567.20" x2="-15.00" y2="587.20" stroke="#1d1d1b" stroke-width="2.1" />
<line x1="-6.00" y1="567.20" x2="-6.00" y2="587.20" stroke="#1d1d1b" stroke-width="2.1" />
<line x1="6.00" y1="567.20" x2="6.00" y2="587.20" stroke="#1d1d1b" stroke-width="2.1" />
<line x1="8.40" y1="567.20" x2="15.00" y2="587.20" stroke="#1d1d1b" stroke-width="2.1" />
<line x1="19.20" y1="567.20" x2="27.00" y2="587.20" stroke="#1d1d1b" stroke-width="2.1" />
<line x1="21.50" y1="567.20" x2="33.70" y2="587.20" stroke="#1d1d1b" stroke-width="2.1" />
<line x1="-24.00" y1="565.20" x2="-41.70" y2="586.90" stroke="#1d1d1b" stroke-width="2.8" />
<line x1="24.00" y1="565.20" x2="41.70" y2="586.90" stroke="#1d1d1b" stroke-width="2.8" />
</g>
<g transform="translate(460.05,0.00)">
<rect x="-43.80" y="670.30" width="88.40" height="5.30" rx="0" fill="#fff" stroke="#1d1d1b" stroke-width="1.3"/>
<path d="M-46,644 Q-46,642.2 -44,642.2 H44.2 Q46.2,642.2 46.2,644 V668.5 Q46.2,670.4 44.2,670.4 H-44 Q-46,670.4 -46,668.5 Z" fill="#fff" stroke="#1d1d1b" stroke-width="1.8" stroke-linejoin="round" />
<line x1="-45.00" y1="643.40" x2="45.00" y2="643.40" stroke="#1d1d1b" stroke-width="2.2" />
<line x1="-20.80" y1="643.00" x2="-20.80" y2="670.00" stroke="#1d1d1b" stroke-width="1.9" />
<line x1="-17.00" y1="643.00" x2="-17.00" y2="670.00" stroke="#1d1d1b" stroke-width="1.9" />
<line x1="17.00" y1="643.00" x2="17.00" y2="670.00" stroke="#1d1d1b" stroke-width="1.9" />
<line x1="20.80" y1="643.00" x2="20.80" y2="670.00" stroke="#1d1d1b" stroke-width="1.9" />
<line x1="-43.40" y1="644.00" x2="-43.40" y2="669.00" stroke="#1d1d1b" stroke-width="1.2" />
<line x1="43.60" y1="644.00" x2="43.60" y2="669.00" stroke="#1d1d1b" stroke-width="1.2" />
<path d="M-43,666.8 Q-31,670.6 -20.6,667.8 M-17,667.8 Q0,671.4 17,667.8 M20.6,667.8 Q31,670.6 43,666.8" fill="none" stroke="#1d1d1b" stroke-width="1.8" stroke-linejoin="round" />
<path d="M-43,646 Q-31,644 -20.6,645.5 M-17,645.5 Q0,643.6 17,645.5 M20.6,645.5 Q31,644 43,646" fill="none" stroke="#1d1d1b" stroke-width="1.0" stroke-linejoin="round" />
<line x1="-44.00" y1="669.20" x2="44.00" y2="669.20" stroke="#1d1d1b" stroke-width="2.0" />
<rect x="-40.80" y="648.20" width="18.20" height="6.00" rx="1.5" fill="#fff" stroke="#1d1d1b" stroke-width="1.5"/>
<rect x="22.80" y="648.20" width="18.20" height="6.00" rx="1.5" fill="#fff" stroke="#1d1d1b" stroke-width="1.5"/>
<line x1="-37.00" y1="648.50" x2="-37.00" y2="654.00" stroke="#1d1d1b" stroke-width="1.2" />
<line x1="37.40" y1="648.50" x2="37.40" y2="654.00" stroke="#1d1d1b" stroke-width="1.2" />
<rect x="-44.60" y="633.00" width="89.60" height="8.80" rx="0" fill="#fff" stroke="#1d1d1b" stroke-width="1.8"/>
<path d="M-42.2,633 V587.2 L-24.4,564.6 H24.4 L42.2,587.2 V633 Z" fill="#fff" stroke="#1d1d1b" stroke-width="2.2" stroke-linejoin="round" />
<line x1="-24.00" y1="567.20" x2="24.00" y2="567.20" stroke="#1d1d1b" stroke-width="1.7" />
<line x1="-42.00" y1="587.40" x2="42.00" y2="587.40" stroke="#1d1d1b" stroke-width="1.9" />
<line x1="-40.00" y1="590.00" x2="40.00" y2="590.00" stroke="#1d1d1b" stroke-width="1.7" />
<line x1="-33.70" y1="589.20" x2="-33.70" y2="632.00" stroke="#1d1d1b" stroke-width="2.0" />
<line x1="-31.00" y1="589.20" x2="-31.00" y2="632.00" stroke="#1d1d1b" stroke-width="2.0" />
<line x1="-26.40" y1="589.20" x2="-26.40" y2="632.00" stroke="#1d1d1b" stroke-width="2.0" />
<line x1="-15.30" y1="589.20" x2="-15.30" y2="632.00" stroke="#1d1d1b" stroke-width="2.0" />
<line x1="-6.00" y1="589.20" x2="-6.00" y2="632.00" stroke="#1d1d1b" stroke-width="2.0" />
<line x1="6.00" y1="589.20" x2="6.00" y2="632.00" stroke="#1d1d1b" stroke-width="2.0" />
<line x1="15.30" y1="589.20" x2="15.30" y2="632.00" stroke="#1d1d1b" stroke-width="2.0" />
<line x1="26.40" y1="589.20" x2="26.40" y2="632.00" stroke="#1d1d1b" stroke-width="2.0" />
<line x1="31.00" y1="589.20" x2="31.00" y2="632.00" stroke="#1d1d1b" stroke-width="2.0" />
<line x1="33.70" y1="589.20" x2="33.70" y2="632.00" stroke="#1d1d1b" stroke-width="2.0" />
<line x1="-39.80" y1="588.20" x2="-39.80" y2="632.00" stroke="#1d1d1b" stroke-width="1.7" />
<line x1="39.80" y1="588.20" x2="39.80" y2="632.00" stroke="#1d1d1b" stroke-width="1.7" />
<line x1="-31.00" y1="631.40" x2="-26.40" y2="631.40" stroke="#555" stroke-width="2.0" />
<line x1="-15.30" y1="631.40" x2="-6.00" y2="631.40" stroke="#555" stroke-width="2.0" />
<line x1="6.00" y1="631.40" x2="15.30" y2="631.40" stroke="#555" stroke-width="2.0" />
<line x1="26.40" y1="631.40" x2="31.00" y2="631.40" stroke="#555" stroke-width="2.0" />
<line x1="-21.50" y1="567.20" x2="-33.70" y2="587.20" stroke="#1d1d1b" stroke-width="2.1" />
<line x1="-19.20" y1="567.20" x2="-27.00" y2="587.20" stroke="#1d1d1b" stroke-width="2.1" />
<line x1="-8.40" y1="567.20" x2="-15.00" y2="587.20" stroke="#1d1d1b" stroke-width="2.1" />
<line x1="-6.00" y1="567.20" x2="-6.00" y2="587.20" stroke="#1d1d1b" stroke-width="2.1" />
<line x1="6.00" y1="567.20" x2="6.00" y2="587.20" stroke="#1d1d1b" stroke-width="2.1" />
<line x1="8.40" y1="567.20" x2="15.00" y2="587.20" stroke="#1d1d1b" stroke-width="2.1" />
<line x1="19.20" y1="567.20" x2="27.00" y2="587.20" stroke="#1d1d1b" stroke-width="2.1" />
<line x1="21.50" y1="567.20" x2="33.70" y2="587.20" stroke="#1d1d1b" stroke-width="2.1" />
<line x1="-24.00" y1="565.20" x2="-41.70" y2="586.90" stroke="#1d1d1b" stroke-width="2.8" />
<line x1="24.00" y1="565.20" x2="41.70" y2="586.90" stroke="#1d1d1b" stroke-width="2.8" />
</g>
<g transform="translate(593.85,0.00)">
<rect x="-43.80" y="670.30" width="88.40" height="5.30" rx="0" fill="#fff" stroke="#1d1d1b" stroke-width="1.3"/>
<path d="M-46,644 Q-46,642.2 -44,642.2 H44.2 Q46.2,642.2 46.2,644 V668.5 Q46.2,670.4 44.2,670.4 H-44 Q-46,670.4 -46,668.5 Z" fill="#fff" stroke="#1d1d1b" stroke-width="1.8" stroke-linejoin="round" />
<line x1="-45.00" y1="643.40" x2="45.00" y2="643.40" stroke="#1d1d1b" stroke-width="2.2" />
<line x1="-20.80" y1="643.00" x2="-20.80" y2="670.00" stroke="#1d1d1b" stroke-width="1.9" />
<line x1="-17.00" y1="643.00" x2="-17.00" y2="670.00" stroke="#1d1d1b" stroke-width="1.9" />
<line x1="17.00" y1="643.00" x2="17.00" y2="670.00" stroke="#1d1d1b" stroke-width="1.9" />
<line x1="20.80" y1="643.00" x2="20.80" y2="670.00" stroke="#1d1d1b" stroke-width="1.9" />
<line x1="-43.40" y1="644.00" x2="-43.40" y2="669.00" stroke="#1d1d1b" stroke-width="1.2" />
<line x1="43.60" y1="644.00" x2="43.60" y2="669.00" stroke="#1d1d1b" stroke-width="1.2" />
<path d="M-43,666.8 Q-31,670.6 -20.6,667.8 M-17,667.8 Q0,671.4 17,667.8 M20.6,667.8 Q31,670.6 43,666.8" fill="none" stroke="#1d1d1b" stroke-width="1.8" stroke-linejoin="round" />
<path d="M-43,646 Q-31,644 -20.6,645.5 M-17,645.5 Q0,643.6 17,645.5 M20.6,645.5 Q31,644 43,646" fill="none" stroke="#1d1d1b" stroke-width="1.0" stroke-linejoin="round" />
<line x1="-44.00" y1="669.20" x2="44.00" y2="669.20" stroke="#1d1d1b" stroke-width="2.0" />
<rect x="-40.80" y="648.20" width="18.20" height="6.00" rx="1.5" fill="#fff" stroke="#1d1d1b" stroke-width="1.5"/>
<rect x="22.80" y="648.20" width="18.20" height="6.00" rx="1.5" fill="#fff" stroke="#1d1d1b" stroke-width="1.5"/>
<line x1="-37.00" y1="648.50" x2="-37.00" y2="654.00" stroke="#1d1d1b" stroke-width="1.2" />
<line x1="37.40" y1="648.50" x2="37.40" y2="654.00" stroke="#1d1d1b" stroke-width="1.2" />
<rect x="-44.60" y="633.00" width="89.60" height="8.80" rx="0" fill="#fff" stroke="#1d1d1b" stroke-width="1.8"/>
<path d="M-42.2,633 V587.2 L-24.4,564.6 H24.4 L42.2,587.2 V633 Z" fill="#fff" stroke="#1d1d1b" stroke-width="2.2" stroke-linejoin="round" />
<line x1="-24.00" y1="567.20" x2="24.00" y2="567.20" stroke="#1d1d1b" stroke-width="1.7" />
<line x1="-42.00" y1="587.40" x2="42.00" y2="587.40" stroke="#1d1d1b" stroke-width="1.9" />
<line x1="-40.00" y1="590.00" x2="40.00" y2="590.00" stroke="#1d1d1b" stroke-width="1.7" />
<line x1="-33.70" y1="589.20" x2="-33.70" y2="632.00" stroke="#1d1d1b" stroke-width="2.0" />
<line x1="-31.00" y1="589.20" x2="-31.00" y2="632.00" stroke="#1d1d1b" stroke-width="2.0" />
<line x1="-26.40" y1="589.20" x2="-26.40" y2="632.00" stroke="#1d1d1b" stroke-width="2.0" />
<line x1="-15.30" y1="589.20" x2="-15.30" y2="632.00" stroke="#1d1d1b" stroke-width="2.0" />
<line x1="-6.00" y1="589.20" x2="-6.00" y2="632.00" stroke="#1d1d1b" stroke-width="2.0" />
<line x1="6.00" y1="589.20" x2="6.00" y2="632.00" stroke="#1d1d1b" stroke-width="2.0" />
<line x1="15.30" y1="589.20" x2="15.30" y2="632.00" stroke="#1d1d1b" stroke-width="2.0" />
<line x1="26.40" y1="589.20" x2="26.40" y2="632.00" stroke="#1d1d1b" stroke-width="2.0" />
<line x1="31.00" y1="589.20" x2="31.00" y2="632.00" stroke="#1d1d1b" stroke-width="2.0" />
<line x1="33.70" y1="589.20" x2="33.70" y2="632.00" stroke="#1d1d1b" stroke-width="2.0" />
<line x1="-39.80" y1="588.20" x2="-39.80" y2="632.00" stroke="#1d1d1b" stroke-width="1.7" />
<line x1="39.80" y1="588.20" x2="39.80" y2="632.00" stroke="#1d1d1b" stroke-width="1.7" />
<line x1="-31.00" y1="631.40" x2="-26.40" y2="631.40" stroke="#555" stroke-width="2.0" />
<line x1="-15.30" y1="631.40" x2="-6.00" y2="631.40" stroke="#555" stroke-width="2.0" />
<line x1="6.00" y1="631.40" x2="15.30" y2="631.40" stroke="#555" stroke-width="2.0" />
<line x1="26.40" y1="631.40" x2="31.00" y2="631.40" stroke="#555" stroke-width="2.0" />
<line x1="-21.50" y1="567.20" x2="-33.70" y2="587.20" stroke="#1d1d1b" stroke-width="2.1" />
<line x1="-19.20" y1="567.20" x2="-27.00" y2="587.20" stroke="#1d1d1b" stroke-width="2.1" />
<line x1="-8.40" y1="567.20" x2="-15.00" y2="587.20" stroke="#1d1d1b" stroke-width="2.1" />
<line x1="-6.00" y1="567.20" x2="-6.00" y2="587.20" stroke="#1d1d1b" stroke-width="2.1" />
<line x1="6.00" y1="567.20" x2="6.00" y2="587.20" stroke="#1d1d1b" stroke-width="2.1" />
<line x1="8.40" y1="567.20" x2="15.00" y2="587.20" stroke="#1d1d1b" stroke-width="2.1" />
<line x1="19.20" y1="567.20" x2="27.00" y2="587.20" stroke="#1d1d1b" stroke-width="2.1" />
<line x1="21.50" y1="567.20" x2="33.70" y2="587.20" stroke="#1d1d1b" stroke-width="2.1" />
<line x1="-24.00" y1="565.20" x2="-41.70" y2="586.90" stroke="#1d1d1b" stroke-width="2.8" />
<line x1="24.00" y1="565.20" x2="41.70" y2="586.90" stroke="#1d1d1b" stroke-width="2.8" />
</g>
<g transform="translate(727.65,0.00)">
<rect x="-43.80" y="670.30" width="88.40" height="5.30" rx="0" fill="#fff" stroke="#1d1d1b" stroke-width="1.3"/>
<path d="M-46,644 Q-46,642.2 -44,642.2 H44.2 Q46.2,642.2 46.2,644 V668.5 Q46.2,670.4 44.2,670.4 H-44 Q-46,670.4 -46,668.5 Z" fill="#fff" stroke="#1d1d1b" stroke-width="1.8" stroke-linejoin="round" />
<line x1="-45.00" y1="643.40" x2="45.00" y2="643.40" stroke="#1d1d1b" stroke-width="2.2" />
<line x1="-20.80" y1="643.00" x2="-20.80" y2="670.00" stroke="#1d1d1b" stroke-width="1.9" />
<line x1="-17.00" y1="643.00" x2="-17.00" y2="670.00" stroke="#1d1d1b" stroke-width="1.9" />
<line x1="17.00" y1="643.00" x2="17.00" y2="670.00" stroke="#1d1d1b" stroke-width="1.9" />
<line x1="20.80" y1="643.00" x2="20.80" y2="670.00" stroke="#1d1d1b" stroke-width="1.9" />
<line x1="-43.40" y1="644.00" x2="-43.40" y2="669.00" stroke="#1d1d1b" stroke-width="1.2" />
<line x1="43.60" y1="644.00" x2="43.60" y2="669.00" stroke="#1d1d1b" stroke-width="1.2" />
<path d="M-43,666.8 Q-31,670.6 -20.6,667.8 M-17,667.8 Q0,671.4 17,667.8 M20.6,667.8 Q31,670.6 43,666.8" fill="none" stroke="#1d1d1b" stroke-width="1.8" stroke-linejoin="round" />
<path d="M-43,646 Q-31,644 -20.6,645.5 M-17,645.5 Q0,643.6 17,645.5 M20.6,645.5 Q31,644 43,646" fill="none" stroke="#1d1d1b" stroke-width="1.0" stroke-linejoin="round" />
<line x1="-44.00" y1="669.20" x2="44.00" y2="669.20" stroke="#1d1d1b" stroke-width="2.0" />
<rect x="-40.80" y="648.20" width="18.20" height="6.00" rx="1.5" fill="#fff" stroke="#1d1d1b" stroke-width="1.5"/>
<rect x="22.80" y="648.20" width="18.20" height="6.00" rx="1.5" fill="#fff" stroke="#1d1d1b" stroke-width="1.5"/>
<line x1="-37.00" y1="648.50" x2="-37.00" y2="654.00" stroke="#1d1d1b" stroke-width="1.2" />
<line x1="37.40" y1="648.50" x2="37.40" y2="654.00" stroke="#1d1d1b" stroke-width="1.2" />
<rect x="-44.60" y="633.00" width="89.60" height="8.80" rx="0" fill="#fff" stroke="#1d1d1b" stroke-width="1.8"/>
<path d="M-42.2,633 V587.2 L-24.4,564.6 H24.4 L42.2,587.2 V633 Z" fill="#fff" stroke="#1d1d1b" stroke-width="2.2" stroke-linejoin="round" />
<line x1="-24.00" y1="567.20" x2="24.00" y2="567.20" stroke="#1d1d1b" stroke-width="1.7" />
<line x1="-42.00" y1="587.40" x2="42.00" y2="587.40" stroke="#1d1d1b" stroke-width="1.9" />
<line x1="-40.00" y1="590.00" x2="40.00" y2="590.00" stroke="#1d1d1b" stroke-width="1.7" />
<line x1="-33.70" y1="589.20" x2="-33.70" y2="632.00" stroke="#1d1d1b" stroke-width="2.0" />
<line x1="-31.00" y1="589.20" x2="-31.00" y2="632.00" stroke="#1d1d1b" stroke-width="2.0" />
<line x1="-26.40" y1="589.20" x2="-26.40" y2="632.00" stroke="#1d1d1b" stroke-width="2.0" />
<line x1="-15.30" y1="589.20" x2="-15.30" y2="632.00" stroke="#1d1d1b" stroke-width="2.0" />
<line x1="-6.00" y1="589.20" x2="-6.00" y2="632.00" stroke="#1d1d1b" stroke-width="2.0" />
<line x1="6.00" y1="589.20" x2="6.00" y2="632.00" stroke="#1d1d1b" stroke-width="2.0" />
<line x1="15.30" y1="589.20" x2="15.30" y2="632.00" stroke="#1d1d1b" stroke-width="2.0" />
<line x1="26.40" y1="589.20" x2="26.40" y2="632.00" stroke="#1d1d1b" stroke-width="2.0" />
<line x1="31.00" y1="589.20" x2="31.00" y2="632.00" stroke="#1d1d1b" stroke-width="2.0" />
<line x1="33.70" y1="589.20" x2="33.70" y2="632.00" stroke="#1d1d1b" stroke-width="2.0" />
<line x1="-39.80" y1="588.20" x2="-39.80" y2="632.00" stroke="#1d1d1b" stroke-width="1.7" />
<line x1="39.80" y1="588.20" x2="39.80" y2="632.00" stroke="#1d1d1b" stroke-width="1.7" />
<line x1="-31.00" y1="631.40" x2="-26.40" y2="631.40" stroke="#555" stroke-width="2.0" />
<line x1="-15.30" y1="631.40" x2="-6.00" y2="631.40" stroke="#555" stroke-width="2.0" />
<line x1="6.00" y1="631.40" x2="15.30" y2="631.40" stroke="#555" stroke-width="2.0" />
<line x1="26.40" y1="631.40" x2="31.00" y2="631.40" stroke="#555" stroke-width="2.0" />
<line x1="-21.50" y1="567.20" x2="-33.70" y2="587.20" stroke="#1d1d1b" stroke-width="2.1" />
<line x1="-19.20" y1="567.20" x2="-27.00" y2="587.20" stroke="#1d1d1b" stroke-width="2.1" />
<line x1="-8.40" y1="567.20" x2="-15.00" y2="587.20" stroke="#1d1d1b" stroke-width="2.1" />
<line x1="-6.00" y1="567.20" x2="-6.00" y2="587.20" stroke="#1d1d1b" stroke-width="2.1" />
<line x1="6.00" y1="567.20" x2="6.00" y2="587.20" stroke="#1d1d1b" stroke-width="2.1" />
<line x1="8.40" y1="567.20" x2="15.00" y2="587.20" stroke="#1d1d1b" stroke-width="2.1" />
<line x1="19.20" y1="567.20" x2="27.00" y2="587.20" stroke="#1d1d1b" stroke-width="2.1" />
<line x1="21.50" y1="567.20" x2="33.70" y2="587.20" stroke="#1d1d1b" stroke-width="2.1" />
<line x1="-24.00" y1="565.20" x2="-41.70" y2="586.90" stroke="#1d1d1b" stroke-width="2.8" />
<line x1="24.00" y1="565.20" x2="41.70" y2="586.90" stroke="#1d1d1b" stroke-width="2.8" />
</g>
<g transform="translate(192.40,0.00)">
<rect x="-30.40" y="285.60" width="61.40" height="8.20" rx="0" fill="#fff" stroke="#1d1d1b" stroke-width="1.5"/>
<rect x="-42.00" y="271.60" width="84.00" height="14.60" rx="1.2" fill="#fff" stroke="#1d1d1b" stroke-width="1.7"/>
<line x1="-20.60" y1="272.00" x2="-20.60" y2="286.00" stroke="#1d1d1b" stroke-width="3.2" />
<line x1="20.90" y1="272.00" x2="20.90" y2="286.00" stroke="#1d1d1b" stroke-width="3.2" />
<rect x="-35.20" y="293.50" width="70.40" height="21.10" rx="2.4" fill="#fff" stroke="#1d1d1b" stroke-width="1.8"/>
<line x1="-33.00" y1="294.20" x2="33.00" y2="294.20" stroke="#1d1d1b" stroke-width="1.6" />
<line x1="-33.00" y1="313.80" x2="33.00" y2="313.80" stroke="#1d1d1b" stroke-width="1.6" />
</g>
<g transform="translate(326.05,0.00)">
<rect x="-30.40" y="285.60" width="61.40" height="8.20" rx="0" fill="#fff" stroke="#1d1d1b" stroke-width="1.5"/>
<rect x="-42.00" y="271.60" width="84.00" height="14.60" rx="1.2" fill="#fff" stroke="#1d1d1b" stroke-width="1.7"/>
<line x1="-20.60" y1="272.00" x2="-20.60" y2="286.00" stroke="#1d1d1b" stroke-width="3.2" />
<line x1="20.90" y1="272.00" x2="20.90" y2="286.00" stroke="#1d1d1b" stroke-width="3.2" />
<rect x="-35.20" y="293.50" width="70.40" height="21.10" rx="2.4" fill="#fff" stroke="#1d1d1b" stroke-width="1.8"/>
<line x1="-33.00" y1="294.20" x2="33.00" y2="294.20" stroke="#1d1d1b" stroke-width="1.6" />
<line x1="-33.00" y1="313.80" x2="33.00" y2="313.80" stroke="#1d1d1b" stroke-width="1.6" />
</g>
<g transform="translate(459.70,0.00)">
<rect x="-30.40" y="285.60" width="61.40" height="8.20" rx="0" fill="#fff" stroke="#1d1d1b" stroke-width="1.5"/>
<rect x="-42.00" y="271.60" width="84.00" height="14.60" rx="1.2" fill="#fff" stroke="#1d1d1b" stroke-width="1.7"/>
<line x1="-20.60" y1="272.00" x2="-20.60" y2="286.00" stroke="#1d1d1b" stroke-width="3.2" />
<line x1="20.90" y1="272.00" x2="20.90" y2="286.00" stroke="#1d1d1b" stroke-width="3.2" />
<rect x="-35.20" y="293.50" width="70.40" height="21.10" rx="2.4" fill="#fff" stroke="#1d1d1b" stroke-width="1.8"/>
<line x1="-33.00" y1="294.20" x2="33.00" y2="294.20" stroke="#1d1d1b" stroke-width="1.6" />
<line x1="-33.00" y1="313.80" x2="33.00" y2="313.80" stroke="#1d1d1b" stroke-width="1.6" />
</g>
<g transform="translate(593.35,0.00)">
<rect x="-30.40" y="285.60" width="61.40" height="8.20" rx="0" fill="#fff" stroke="#1d1d1b" stroke-width="1.5"/>
<rect x="-42.00" y="271.60" width="84.00" height="14.60" rx="1.2" fill="#fff" stroke="#1d1d1b" stroke-width="1.7"/>
<line x1="-20.60" y1="272.00" x2="-20.60" y2="286.00" stroke="#1d1d1b" stroke-width="3.2" />
<line x1="20.90" y1="272.00" x2="20.90" y2="286.00" stroke="#1d1d1b" stroke-width="3.2" />
<rect x="-35.20" y="293.50" width="70.40" height="21.10" rx="2.4" fill="#fff" stroke="#1d1d1b" stroke-width="1.8"/>
<line x1="-33.00" y1="294.20" x2="33.00" y2="294.20" stroke="#1d1d1b" stroke-width="1.6" />
<line x1="-33.00" y1="313.80" x2="33.00" y2="313.80" stroke="#1d1d1b" stroke-width="1.6" />
</g>
<g transform="translate(727.00,0.00)">
<rect x="-30.40" y="285.60" width="61.40" height="8.20" rx="0" fill="#fff" stroke="#1d1d1b" stroke-width="1.5"/>
<rect x="-42.00" y="271.60" width="84.00" height="14.60" rx="1.2" fill="#fff" stroke="#1d1d1b" stroke-width="1.7"/>
<line x1="-20.60" y1="272.00" x2="-20.60" y2="286.00" stroke="#1d1d1b" stroke-width="3.2" />
<line x1="20.90" y1="272.00" x2="20.90" y2="286.00" stroke="#1d1d1b" stroke-width="3.2" />
<rect x="-35.20" y="293.50" width="70.40" height="21.10" rx="2.4" fill="#fff" stroke="#1d1d1b" stroke-width="1.8"/>
<line x1="-33.00" y1="294.20" x2="33.00" y2="294.20" stroke="#1d1d1b" stroke-width="1.6" />
<line x1="-33.00" y1="313.80" x2="33.00" y2="313.80" stroke="#1d1d1b" stroke-width="1.6" />
</g>
<g transform="translate(192.40,504.30)">
<rect x="-31.60" y="284.00" width="63.60" height="8.00" rx="0" fill="#fff" stroke="#1d1d1b" stroke-width="1.5"/>
<path d="M-41.8,276 Q-41.8,272.6 -36,272.3 Q-30,271 -24,272.3 Q-21,273 -19,273 Q0,269.6 19,273 Q21,273 24,272.3 Q30,271 36,272.3 Q41.8,272.6 41.8,276 V281 Q41.8,284 36,284.4 Q30,285.4 24,284.4 Q21,284 19,283.6 Q0,287 -19,283.6 Q-21,284 -24,284.4 Q-30,285.4 -36,284.4 Q-41.8,284 -41.8,281 Z" fill="#fff" stroke="#1d1d1b" stroke-width="1.9" stroke-linejoin="round" />
<path d="M-20.6,273 V284 M20.8,273 V284" fill="none" stroke="#1d1d1b" stroke-width="3.0" stroke-linejoin="round" />
<rect x="-35.20" y="291.80" width="70.40" height="18.60" rx="2.4" fill="#fff" stroke="#1d1d1b" stroke-width="1.8"/>
<line x1="-33.00" y1="292.60" x2="33.00" y2="292.60" stroke="#1d1d1b" stroke-width="2.2" />
<line x1="-32.60" y1="308.00" x2="32.60" y2="308.00" stroke="#1d1d1b" stroke-width="1.4" />
<line x1="32.60" y1="293.00" x2="32.60" y2="308.00" stroke="#1d1d1b" stroke-width="1.2" />
</g>
<g transform="translate(326.05,504.30)">
<rect x="-31.60" y="284.00" width="63.60" height="8.00" rx="0" fill="#fff" stroke="#1d1d1b" stroke-width="1.5"/>
<path d="M-41.8,276 Q-41.8,272.6 -36,272.3 Q-30,271 -24,272.3 Q-21,273 -19,273 Q0,269.6 19,273 Q21,273 24,272.3 Q30,271 36,272.3 Q41.8,272.6 41.8,276 V281 Q41.8,284 36,284.4 Q30,285.4 24,284.4 Q21,284 19,283.6 Q0,287 -19,283.6 Q-21,284 -24,284.4 Q-30,285.4 -36,284.4 Q-41.8,284 -41.8,281 Z" fill="#fff" stroke="#1d1d1b" stroke-width="1.9" stroke-linejoin="round" />
<path d="M-20.6,273 V284 M20.8,273 V284" fill="none" stroke="#1d1d1b" stroke-width="3.0" stroke-linejoin="round" />
<rect x="-35.20" y="291.80" width="70.40" height="18.60" rx="2.4" fill="#fff" stroke="#1d1d1b" stroke-width="1.8"/>
<line x1="-33.00" y1="292.60" x2="33.00" y2="292.60" stroke="#1d1d1b" stroke-width="2.2" />
<line x1="-32.60" y1="308.00" x2="32.60" y2="308.00" stroke="#1d1d1b" stroke-width="1.4" />
<line x1="32.60" y1="293.00" x2="32.60" y2="308.00" stroke="#1d1d1b" stroke-width="1.2" />
</g>
<g transform="translate(459.70,504.30)">
<rect x="-31.60" y="284.00" width="63.60" height="8.00" rx="0" fill="#fff" stroke="#1d1d1b" stroke-width="1.5"/>
<path d="M-41.8,276 Q-41.8,272.6 -36,272.3 Q-30,271 -24,272.3 Q-21,273 -19,273 Q0,269.6 19,273 Q21,273 24,272.3 Q30,271 36,272.3 Q41.8,272.6 41.8,276 V281 Q41.8,284 36,284.4 Q30,285.4 24,284.4 Q21,284 19,283.6 Q0,287 -19,283.6 Q-21,284 -24,284.4 Q-30,285.4 -36,284.4 Q-41.8,284 -41.8,281 Z" fill="#fff" stroke="#1d1d1b" stroke-width="1.9" stroke-linejoin="round" />
<path d="M-20.6,273 V284 M20.8,273 V284" fill="none" stroke="#1d1d1b" stroke-width="3.0" stroke-linejoin="round" />
<rect x="-35.20" y="291.80" width="70.40" height="18.60" rx="2.4" fill="#fff" stroke="#1d1d1b" stroke-width="1.8"/>
<line x1="-33.00" y1="292.60" x2="33.00" y2="292.60" stroke="#1d1d1b" stroke-width="2.2" />
<line x1="-32.60" y1="308.00" x2="32.60" y2="308.00" stroke="#1d1d1b" stroke-width="1.4" />
<line x1="32.60" y1="293.00" x2="32.60" y2="308.00" stroke="#1d1d1b" stroke-width="1.2" />
</g>
<g transform="translate(593.35,504.30)">
<rect x="-31.60" y="284.00" width="63.60" height="8.00" rx="0" fill="#fff" stroke="#1d1d1b" stroke-width="1.5"/>
<path d="M-41.8,276 Q-41.8,272.6 -36,272.3 Q-30,271 -24,272.3 Q-21,273 -19,273 Q0,269.6 19,273 Q21,273 24,272.3 Q30,271 36,272.3 Q41.8,272.6 41.8,276 V281 Q41.8,284 36,284.4 Q30,285.4 24,284.4 Q21,284 19,283.6 Q0,287 -19,283.6 Q-21,284 -24,284.4 Q-30,285.4 -36,284.4 Q-41.8,284 -41.8,281 Z" fill="#fff" stroke="#1d1d1b" stroke-width="1.9" stroke-linejoin="round" />
<path d="M-20.6,273 V284 M20.8,273 V284" fill="none" stroke="#1d1d1b" stroke-width="3.0" stroke-linejoin="round" />
<rect x="-35.20" y="291.80" width="70.40" height="18.60" rx="2.4" fill="#fff" stroke="#1d1d1b" stroke-width="1.8"/>
<line x1="-33.00" y1="292.60" x2="33.00" y2="292.60" stroke="#1d1d1b" stroke-width="2.2" />
<line x1="-32.60" y1="308.00" x2="32.60" y2="308.00" stroke="#1d1d1b" stroke-width="1.4" />
<line x1="32.60" y1="293.00" x2="32.60" y2="308.00" stroke="#1d1d1b" stroke-width="1.2" />
</g>
<g transform="translate(727.00,504.30)">
<rect x="-31.60" y="284.00" width="63.60" height="8.00" rx="0" fill="#fff" stroke="#1d1d1b" stroke-width="1.5"/>
<path d="M-41.8,276 Q-41.8,272.6 -36,272.3 Q-30,271 -24,272.3 Q-21,273 -19,273 Q0,269.6 19,273 Q21,273 24,272.3 Q30,271 36,272.3 Q41.8,272.6 41.8,276 V281 Q41.8,284 36,284.4 Q30,285.4 24,284.4 Q21,284 19,283.6 Q0,287 -19,283.6 Q-21,284 -24,284.4 Q-30,285.4 -36,284.4 Q-41.8,284 -41.8,281 Z" fill="#fff" stroke="#1d1d1b" stroke-width="1.9" stroke-linejoin="round" />
<path d="M-20.6,273 V284 M20.8,273 V284" fill="none" stroke="#1d1d1b" stroke-width="3.0" stroke-linejoin="round" />
<rect x="-35.20" y="291.80" width="70.40" height="18.60" rx="2.4" fill="#fff" stroke="#1d1d1b" stroke-width="1.8"/>
<line x1="-33.00" y1="292.60" x2="33.00" y2="292.60" stroke="#1d1d1b" stroke-width="2.2" />
<line x1="-32.60" y1="308.00" x2="32.60" y2="308.00" stroke="#1d1d1b" stroke-width="1.4" />
<line x1="32.60" y1="293.00" x2="32.60" y2="308.00" stroke="#1d1d1b" stroke-width="1.2" />
</g>
<path d="M129.9,171.3 H789.0 L794.2,179.0 V262.6 L789.0,270.3 H129.9 L124.6,262.6 V179.0 Z" fill="#fff" stroke="#1d1d1b" stroke-width="1.2" stroke-linejoin="round" />
<path d="M134.5,172.8 L127.2,183.9 M134.5,268.6 L127.2,257.1 M785.6,172.8 L792.7,187.5 M785.0,268.6 L792.4,257.1" fill="none" stroke="#1d1d1b" stroke-width="1.2" stroke-linejoin="round" />
<line x1="130.50" y1="171.80" x2="788.60" y2="171.80" stroke="#1d1d1b" stroke-width="2.8" />
<line x1="130.50" y1="269.60" x2="788.60" y2="269.60" stroke="#9a9a9a" stroke-width="3.2" />
<line x1="131.50" y1="268.20" x2="787.60" y2="268.20" stroke="#1d1d1b" stroke-width="1.3" />
<line x1="130.50" y1="270.50" x2="788.60" y2="270.50" stroke="#1d1d1b" stroke-width="1.5" />
<line x1="125.50" y1="183.70" x2="125.50" y2="257.30" stroke="#1d1d1b" stroke-width="3.0" />
<line x1="793.60" y1="187.00" x2="793.60" y2="254.00" stroke="#1d1d1b" stroke-width="2.4" />
<line x1="125.50" y1="188.50" x2="793.60" y2="188.50" stroke="#1d1d1b" stroke-width="2.3" />
<line x1="125.50" y1="252.50" x2="793.60" y2="252.50" stroke="#1d1d1b" stroke-width="2.3" />
<path d="M129.9,676.4 H789.0 L794.2,684.1 V767.5 L789.0,775.2 H129.9 L124.6,767.5 V684.1 Z" fill="#fff" stroke="#1d1d1b" stroke-width="1.2" stroke-linejoin="round" />
<path d="M134.5,677.9 L127.2,689.4 M134.5,773.5 L127.2,762.8000000000001 M785.6,677.9 L792.7,693.0 M785.0,773.5 L792.4,762.8000000000001" fill="none" stroke="#1d1d1b" stroke-width="1.2" stroke-linejoin="round" />
<line x1="130.50" y1="676.90" x2="788.60" y2="676.90" stroke="#9a9a9a" stroke-width="3.4" />
<line x1="130.50" y1="675.60" x2="788.60" y2="675.60" stroke="#1d1d1b" stroke-width="1.3" />
<line x1="131.50" y1="678.60" x2="787.60" y2="678.60" stroke="#1d1d1b" stroke-width="1.4" />
<line x1="130.50" y1="774.50" x2="788.60" y2="774.50" stroke="#1d1d1b" stroke-width="2.8" />
<line x1="125.50" y1="689.20" x2="125.50" y2="763.00" stroke="#1d1d1b" stroke-width="3.0" />
<line x1="793.60" y1="692.50" x2="793.60" y2="759.70" stroke="#1d1d1b" stroke-width="2.4" />
<line x1="125.50" y1="694.00" x2="793.60" y2="694.00" stroke="#1d1d1b" stroke-width="2.3" />
<line x1="125.50" y1="758.20" x2="793.60" y2="758.20" stroke="#1d1d1b" stroke-width="2.3" />
<g transform="translate(256.60,0.00)">
<rect x="-12.30" y="273.70" width="24.10" height="5.80" rx="1" fill="#fff" stroke="#1d1d1b" stroke-width="1.4"/>
<line x1="-8.50" y1="276.30" x2="9.50" y2="276.30" stroke="#1d1d1b" stroke-width="1.6" />
<line x1="-9.00" y1="275.20" x2="-9.00" y2="278.70" stroke="#1d1d1b" stroke-width="1.0" />
<path d="M-16.7,273.2 V92.7 Q-16.7,89.7 -13.7,89.7 H13.1 Q16.1,89.7 16.1,92.7 V273.2 Q16.1,274.7 14.6,274.7 H-15.2 Q-16.7,274.7 -16.7,273.2 Z" fill="#fff" stroke="#1d1d1b" stroke-width="1.6" stroke-linejoin="round" />
<polygon points="0.10,106.00 11.10,110.50 16.30,120.80 11.10,130.90 0.10,135.30 -10.90,130.90 -16.30,120.80 -10.90,110.50" fill="#fff" stroke="#1d1d1b" stroke-width="1.6" stroke-linejoin="round"/>
<path d="M-7.4,121.00000000000001 H7.4 M0.1,113.60000000000001 V128.4" fill="none" stroke="#1d1d1b" stroke-width="3.8" stroke-linejoin="round" />
<path d="M0.1,114.80000000000001 V127.20000000000002" fill="none" stroke="#e8e8e8" stroke-width="1.3" stroke-linejoin="round" />
<path d="M-6.2,121.00000000000001 H6.2" fill="none" stroke="#8a8a8a" stroke-width="1.0" stroke-linejoin="round" />
<line x1="-16.70" y1="146.80" x2="16.10" y2="146.80" stroke="#1d1d1b" stroke-width="1.4" />
<line x1="-16.70" y1="165.80" x2="16.10" y2="165.80" stroke="#1d1d1b" stroke-width="1.4" />
<line x1="-16.70" y1="182.20" x2="16.10" y2="182.20" stroke="#1d1d1b" stroke-width="1.4" />
<line x1="-16.70" y1="258.70" x2="16.10" y2="258.70" stroke="#1d1d1b" stroke-width="1.4" />
<polygon points="6.86,200.79 1.43,204.68 -5.00,202.87 -7.59,196.71 -4.39,190.84 2.20,189.69 7.20,194.12" fill="#fff" stroke="#1d1d1b" stroke-width="1.8" stroke-linejoin="round"/>
<circle cx="0.3" cy="197.10" r="1.9" fill="#1d1d1b"/>
<polygon points="6.86,244.59 1.43,248.48 -5.00,246.67 -7.59,240.51 -4.39,234.64 2.20,233.49 7.20,237.92" fill="#fff" stroke="#1d1d1b" stroke-width="1.8" stroke-linejoin="round"/>
<circle cx="0.3" cy="240.90" r="1.9" fill="#1d1d1b"/>
</g>
<g transform="translate(256.60,0.00)">
<rect x="-12.30" y="779.20" width="24.10" height="10.00" rx="1" fill="#fff" stroke="#1d1d1b" stroke-width="1.4"/>
<line x1="-8.60" y1="782.20" x2="11.00" y2="782.20" stroke="#777" stroke-width="1.8" />
<line x1="-8.60" y1="783.80" x2="11.00" y2="783.80" stroke="#1d1d1b" stroke-width="1.2" />
<line x1="-8.60" y1="780.70" x2="-8.60" y2="788.70" stroke="#1d1d1b" stroke-width="1.2" />
<path d="M-16.7,778.7 V598.4 Q-16.7,595.4 -13.7,595.4 H13.1 Q16.1,595.4 16.1,598.4 V778.7 Q16.1,780.2 14.6,780.2 H-15.2 Q-16.7,780.2 -16.7,778.7 Z" fill="#fff" stroke="#1d1d1b" stroke-width="1.6" stroke-linejoin="round" />
<polygon points="0.10,611.40 11.10,615.90 16.30,626.20 11.10,636.30 0.10,640.70 -10.90,636.30 -16.30,626.20 -10.90,615.90" fill="#fff" stroke="#1d1d1b" stroke-width="1.6" stroke-linejoin="round"/>
<path d="M-7.4,626.4 H7.4 M0.1,618.9999999999999 V633.8" fill="none" stroke="#1d1d1b" stroke-width="3.8" stroke-linejoin="round" />
<path d="M0.1,620.1999999999999 V632.5999999999999" fill="none" stroke="#e8e8e8" stroke-width="1.3" stroke-linejoin="round" />
<path d="M-6.2,626.4 H6.2" fill="none" stroke="#8a8a8a" stroke-width="1.0" stroke-linejoin="round" />
<line x1="-16.70" y1="652.10" x2="16.10" y2="652.10" stroke="#1d1d1b" stroke-width="1.4" />
<line x1="-16.70" y1="671.30" x2="16.10" y2="671.30" stroke="#1d1d1b" stroke-width="1.4" />
<line x1="-16.70" y1="687.30" x2="16.10" y2="687.30" stroke="#1d1d1b" stroke-width="1.4" />
<line x1="-16.70" y1="763.70" x2="16.10" y2="763.70" stroke="#1d1d1b" stroke-width="1.4" />
<polygon points="6.86,705.69 1.43,709.58 -5.00,707.77 -7.59,701.61 -4.39,695.74 2.20,694.59 7.20,699.02" fill="#fff" stroke="#1d1d1b" stroke-width="1.8" stroke-linejoin="round"/>
<circle cx="0.3" cy="702.00" r="1.9" fill="#1d1d1b"/>
<polygon points="6.86,749.49 1.43,753.38 -5.00,751.57 -7.59,745.41 -4.39,739.54 2.20,738.39 7.20,742.82" fill="#fff" stroke="#1d1d1b" stroke-width="1.8" stroke-linejoin="round"/>
<circle cx="0.3" cy="745.80" r="1.9" fill="#1d1d1b"/>
</g>
<g transform="translate(658.00,0.00)">
<rect x="-12.30" y="273.70" width="24.10" height="5.80" rx="1" fill="#fff" stroke="#1d1d1b" stroke-width="1.4"/>
<line x1="-8.50" y1="276.30" x2="9.50" y2="276.30" stroke="#1d1d1b" stroke-width="1.6" />
<line x1="-9.00" y1="275.20" x2="-9.00" y2="278.70" stroke="#1d1d1b" stroke-width="1.0" />
<path d="M-16.7,273.2 V92.7 Q-16.7,89.7 -13.7,89.7 H13.1 Q16.1,89.7 16.1,92.7 V273.2 Q16.1,274.7 14.6,274.7 H-15.2 Q-16.7,274.7 -16.7,273.2 Z" fill="#fff" stroke="#1d1d1b" stroke-width="1.6" stroke-linejoin="round" />
<polygon points="0.10,106.00 11.10,110.50 16.30,120.80 11.10,130.90 0.10,135.30 -10.90,130.90 -16.30,120.80 -10.90,110.50" fill="#fff" stroke="#1d1d1b" stroke-width="1.6" stroke-linejoin="round"/>
<path d="M-7.4,121.00000000000001 H7.4 M0.1,113.60000000000001 V128.4" fill="none" stroke="#1d1d1b" stroke-width="3.8" stroke-linejoin="round" />
<path d="M0.1,114.80000000000001 V127.20000000000002" fill="none" stroke="#e8e8e8" stroke-width="1.3" stroke-linejoin="round" />
<path d="M-6.2,121.00000000000001 H6.2" fill="none" stroke="#8a8a8a" stroke-width="1.0" stroke-linejoin="round" />
<line x1="-16.70" y1="146.80" x2="16.10" y2="146.80" stroke="#1d1d1b" stroke-width="1.4" />
<line x1="-16.70" y1="165.80" x2="16.10" y2="165.80" stroke="#1d1d1b" stroke-width="1.4" />
<line x1="-16.70" y1="182.20" x2="16.10" y2="182.20" stroke="#1d1d1b" stroke-width="1.4" />
<line x1="-16.70" y1="258.70" x2="16.10" y2="258.70" stroke="#1d1d1b" stroke-width="1.4" />
<polygon points="6.86,200.79 1.43,204.68 -5.00,202.87 -7.59,196.71 -4.39,190.84 2.20,189.69 7.20,194.12" fill="#fff" stroke="#1d1d1b" stroke-width="1.8" stroke-linejoin="round"/>
<circle cx="0.3" cy="197.10" r="1.9" fill="#1d1d1b"/>
<polygon points="6.86,244.59 1.43,248.48 -5.00,246.67 -7.59,240.51 -4.39,234.64 2.20,233.49 7.20,237.92" fill="#fff" stroke="#1d1d1b" stroke-width="1.8" stroke-linejoin="round"/>
<circle cx="0.3" cy="240.90" r="1.9" fill="#1d1d1b"/>
</g>
<g transform="translate(658.00,0.00)">
<rect x="-12.30" y="779.20" width="24.10" height="10.00" rx="1" fill="#fff" stroke="#1d1d1b" stroke-width="1.4"/>
<line x1="-8.60" y1="782.20" x2="11.00" y2="782.20" stroke="#777" stroke-width="1.8" />
<line x1="-8.60" y1="783.80" x2="11.00" y2="783.80" stroke="#1d1d1b" stroke-width="1.2" />
<line x1="-8.60" y1="780.70" x2="-8.60" y2="788.70" stroke="#1d1d1b" stroke-width="1.2" />
<path d="M-16.7,778.7 V598.4 Q-16.7,595.4 -13.7,595.4 H13.1 Q16.1,595.4 16.1,598.4 V778.7 Q16.1,780.2 14.6,780.2 H-15.2 Q-16.7,780.2 -16.7,778.7 Z" fill="#fff" stroke="#1d1d1b" stroke-width="1.6" stroke-linejoin="round" />
<polygon points="0.10,611.40 11.10,615.90 16.30,626.20 11.10,636.30 0.10,640.70 -10.90,636.30 -16.30,626.20 -10.90,615.90" fill="#fff" stroke="#1d1d1b" stroke-width="1.6" stroke-linejoin="round"/>
<path d="M-7.4,626.4 H7.4 M0.1,618.9999999999999 V633.8" fill="none" stroke="#1d1d1b" stroke-width="3.8" stroke-linejoin="round" />
<path d="M0.1,620.1999999999999 V632.5999999999999" fill="none" stroke="#e8e8e8" stroke-width="1.3" stroke-linejoin="round" />
<path d="M-6.2,626.4 H6.2" fill="none" stroke="#8a8a8a" stroke-width="1.0" stroke-linejoin="round" />
<line x1="-16.70" y1="652.10" x2="16.10" y2="652.10" stroke="#1d1d1b" stroke-width="1.4" />
<line x1="-16.70" y1="671.30" x2="16.10" y2="671.30" stroke="#1d1d1b" stroke-width="1.4" />
<line x1="-16.70" y1="687.30" x2="16.10" y2="687.30" stroke="#1d1d1b" stroke-width="1.4" />
<line x1="-16.70" y1="763.70" x2="16.10" y2="763.70" stroke="#1d1d1b" stroke-width="1.4" />
<polygon points="6.86,705.69 1.43,709.58 -5.00,707.77 -7.59,701.61 -4.39,695.74 2.20,694.59 7.20,699.02" fill="#fff" stroke="#1d1d1b" stroke-width="1.8" stroke-linejoin="round"/>
<circle cx="0.3" cy="702.00" r="1.9" fill="#1d1d1b"/>
<polygon points="6.86,749.49 1.43,753.38 -5.00,751.57 -7.59,745.41 -4.39,739.54 2.20,738.39 7.20,742.82" fill="#fff" stroke="#1d1d1b" stroke-width="1.8" stroke-linejoin="round"/>
<circle cx="0.3" cy="745.80" r="1.9" fill="#1d1d1b"/>
</g>
<line x1="70.10" y1="128.80" x2="70.10" y2="308.00" stroke="#333" stroke-width="1.1" />
<line x1="60.00" y1="185.50" x2="166.00" y2="185.50" stroke="#333" stroke-width="0.9" />
<line x1="60.00" y1="254.30" x2="166.00" y2="254.30" stroke="#333" stroke-width="0.9" />
<polygon points="70.00,185.20 64.20,150.20 75.80,150.20" fill="#1d1d1b"/>
<polygon points="70.00,254.60 64.20,289.60 75.80,289.60" fill="#1d1d1b"/>
<line x1="59.60" y1="634.30" x2="59.60" y2="813.80" stroke="#333" stroke-width="1.1" />
<line x1="47.50" y1="689.30" x2="152.50" y2="689.30" stroke="#333" stroke-width="0.9" />
<line x1="47.50" y1="758.80" x2="126.00" y2="758.80" stroke="#333" stroke-width="0.9" />
<polygon points="59.50,689.00 53.70,654.00 65.30,654.00" fill="#1d1d1b"/>
<polygon points="59.50,759.20 53.70,794.20 65.30,794.20" fill="#1d1d1b"/>
<line x1="125.80" y1="772.00" x2="125.80" y2="939.00" stroke="#333" stroke-width="0.9" />
<line x1="793.00" y1="772.00" x2="793.00" y2="939.00" stroke="#333" stroke-width="0.9" />
<line x1="125.80" y1="931.90" x2="793.00" y2="931.90" stroke="#333" stroke-width="1.1" />
<polygon points="126.20,932.10 161.20,926.30 161.20,937.90" fill="#1d1d1b"/>
<polygon points="792.60,932.10 757.60,926.30 757.60,937.90" fill="#1d1d1b"/>
<line x1="459.50" y1="814.50" x2="459.50" y2="877.50" stroke="#333" stroke-width="0.9" />
<line x1="593.30" y1="814.50" x2="593.30" y2="877.50" stroke="#333" stroke-width="0.9" />
<line x1="459.50" y1="870.80" x2="593.30" y2="870.80" stroke="#333" stroke-width="0.9" />
<polygon points="460.00,870.80 495.00,865.00 495.00,876.60" fill="#1d1d1b"/>
<polygon points="592.80,870.80 557.80,865.00 557.80,876.60" fill="#1d1d1b"/>
<line x1="690.80" y1="814.50" x2="690.80" y2="877.50" stroke="#333" stroke-width="0.9" />
<line x1="761.60" y1="814.50" x2="761.60" y2="877.50" stroke="#333" stroke-width="0.9" />
<line x1="641.30" y1="870.80" x2="800.80" y2="870.80" stroke="#333" stroke-width="0.9" />
<polygon points="690.40,870.80 655.40,865.00 655.40,876.60" fill="#1d1d1b"/>
<polygon points="762.00,870.80 797.00,865.00 797.00,876.60" fill="#1d1d1b"/>
<line x1="812.50" y1="219.30" x2="916.30" y2="219.30" stroke="#333" stroke-width="0.9" />
<line x1="810.00" y1="725.50" x2="916.30" y2="725.50" stroke="#333" stroke-width="0.9" />
<line x1="908.50" y1="219.30" x2="908.50" y2="725.50" stroke="#333" stroke-width="0.9" />
<polygon points="908.50,219.60 902.70,254.60 914.30,254.60" fill="#1d1d1b"/>
<polygon points="908.50,725.20 902.70,690.20 914.30,690.20" fill="#1d1d1b"/>
<line x1="753.80" y1="59.30" x2="972.50" y2="59.30" stroke="#333" stroke-width="0.9" />
<line x1="761.30" y1="814.00" x2="972.50" y2="814.00" stroke="#333" stroke-width="0.9" />
<line x1="965.70" y1="59.30" x2="965.70" y2="814.00" stroke="#333" stroke-width="0.9" />
<polygon points="965.70,59.60 959.90,94.60 971.50,94.60" fill="#1d1d1b"/>
<polygon points="965.70,813.70 959.90,778.70 971.50,778.70" fill="#1d1d1b"/>
<text transform="translate(61.60,240.00) rotate(-90) scale(0.8,1)" x="-1.91 34.07" y="0" font-size="43.2" class="t">G1</text>
<text transform="translate(51.10,746.20) rotate(-90) scale(0.8,1)" x="-1.91 35.45" y="0" font-size="43.2" class="t">G1</text>
<text transform="translate(513.20,858.40) scale(0.8,1)" x="-2.35" y="0" font-size="43.2" class="t">C</text>
<text transform="translate(431.40,926.30) scale(0.908,1)" x="-1.07" y="0" font-size="43.2" class="t">D</text>
<text transform="translate(704.30,864.90) scale(0.81,1)" x="-2.22 31.30" y="0" font-size="43.2" class="t">G2</text>
<text transform="translate(897.70,521.00) rotate(-90) scale(0.713,1)" x="-1.02" y="0" font-size="43.2" class="t">E</text>
<text transform="translate(959.50,506.00) rotate(-90) scale(0.716,1)" x="-1.01" y="0" font-size="43.2" class="t">F</text>
</svg>
</body>
</html>
